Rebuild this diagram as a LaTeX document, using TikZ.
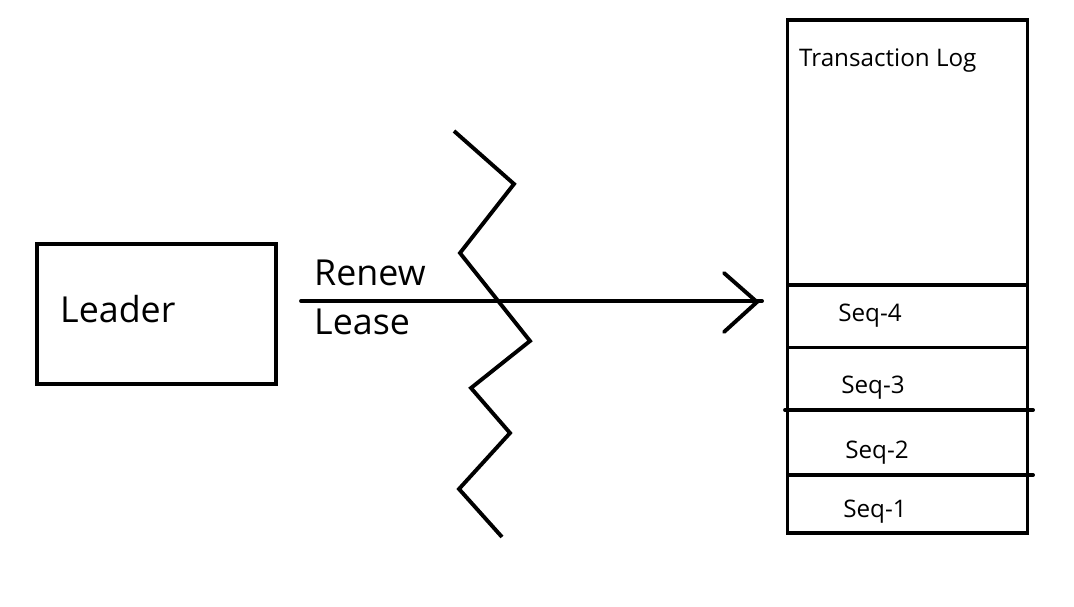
\documentclass[tikz,border=0pt]{standalone}
\usepackage{fontspec}
\setmainfont{Open Sans}
\begin{document}
\begin{tikzpicture}[x=1bp,y=-1bp,
  ink/.style={line width=3.9bp,draw=black},
  bigtxt/.style={anchor=base west,inner sep=0pt,font=\fontsize{35.8bp}{42bp}\selectfont},
  smalltxt/.style={inner sep=0pt,font=\fontsize{24.2bp}{28bp}\selectfont}]
\useasboundingbox (0,0) rectangle (1074,607);
% Leader box
\node[ink,rectangle,minimum width=239bp,minimum height=140bp,inner sep=0pt] (leader) at (156.5,314) {};
\node[bigtxt] (leadertxt) at (60,322.5) {Leader};
% Transaction log box
\node[ink,rectangle,minimum width=240bp,minimum height=513bp,inner sep=0pt] (log) at (907.5,276.5) {};
\node[smalltxt,anchor=base west] (logtxt) at (799,67) {Transaction Log};
% row separators
\coordinate (r1a) at (788,285); \coordinate (r1b) at (1027,285);
\coordinate (r2a) at (788,347.5); \coordinate (r2b) at (1027,347.5);
\coordinate (r3a) at (785,410); \coordinate (r3b) at (1033,410);
\coordinate (r4a) at (788,475); \coordinate (r4b) at (1033,475);
\draw[ink] (r1a) -- (r1b);
\draw[ink] (r2a) -- (r2b);
\draw[ink,line cap=round] (r3a) -- (r3b);
\draw[ink,line cap=round] (r4a) -- (r4b);
\node[smalltxt] (s4) at (870,315.5) {Seq-4};
\node[smalltxt] (s3) at (873,387.5) {Seq-3};
\node[smalltxt] (s2) at (877,452.5) {Seq-2};
\node[smalltxt] (s1) at (875,511.5) {Seq-1};
% zigzag
\draw[ink,miter limit=10] (454,131) -- (514,184) -- (460,253) -- (530,341) -- (471,388) -- (510,433) -- (459,489) -- (502,537);
% arrow
\coordinate (astart) at (301,301);
\coordinate (aend) at (762,301);
\draw[ink,line cap=round] (astart) -- (aend);
\draw[ink,line cap=round,miter limit=10] (724,273) -- (757,302) -- (724,332);
\node[bigtxt] (renew) at (314,285.5) {Renew};
\node[bigtxt] (lease) at (314,334) {Lease};
\end{tikzpicture}
\end{document}
